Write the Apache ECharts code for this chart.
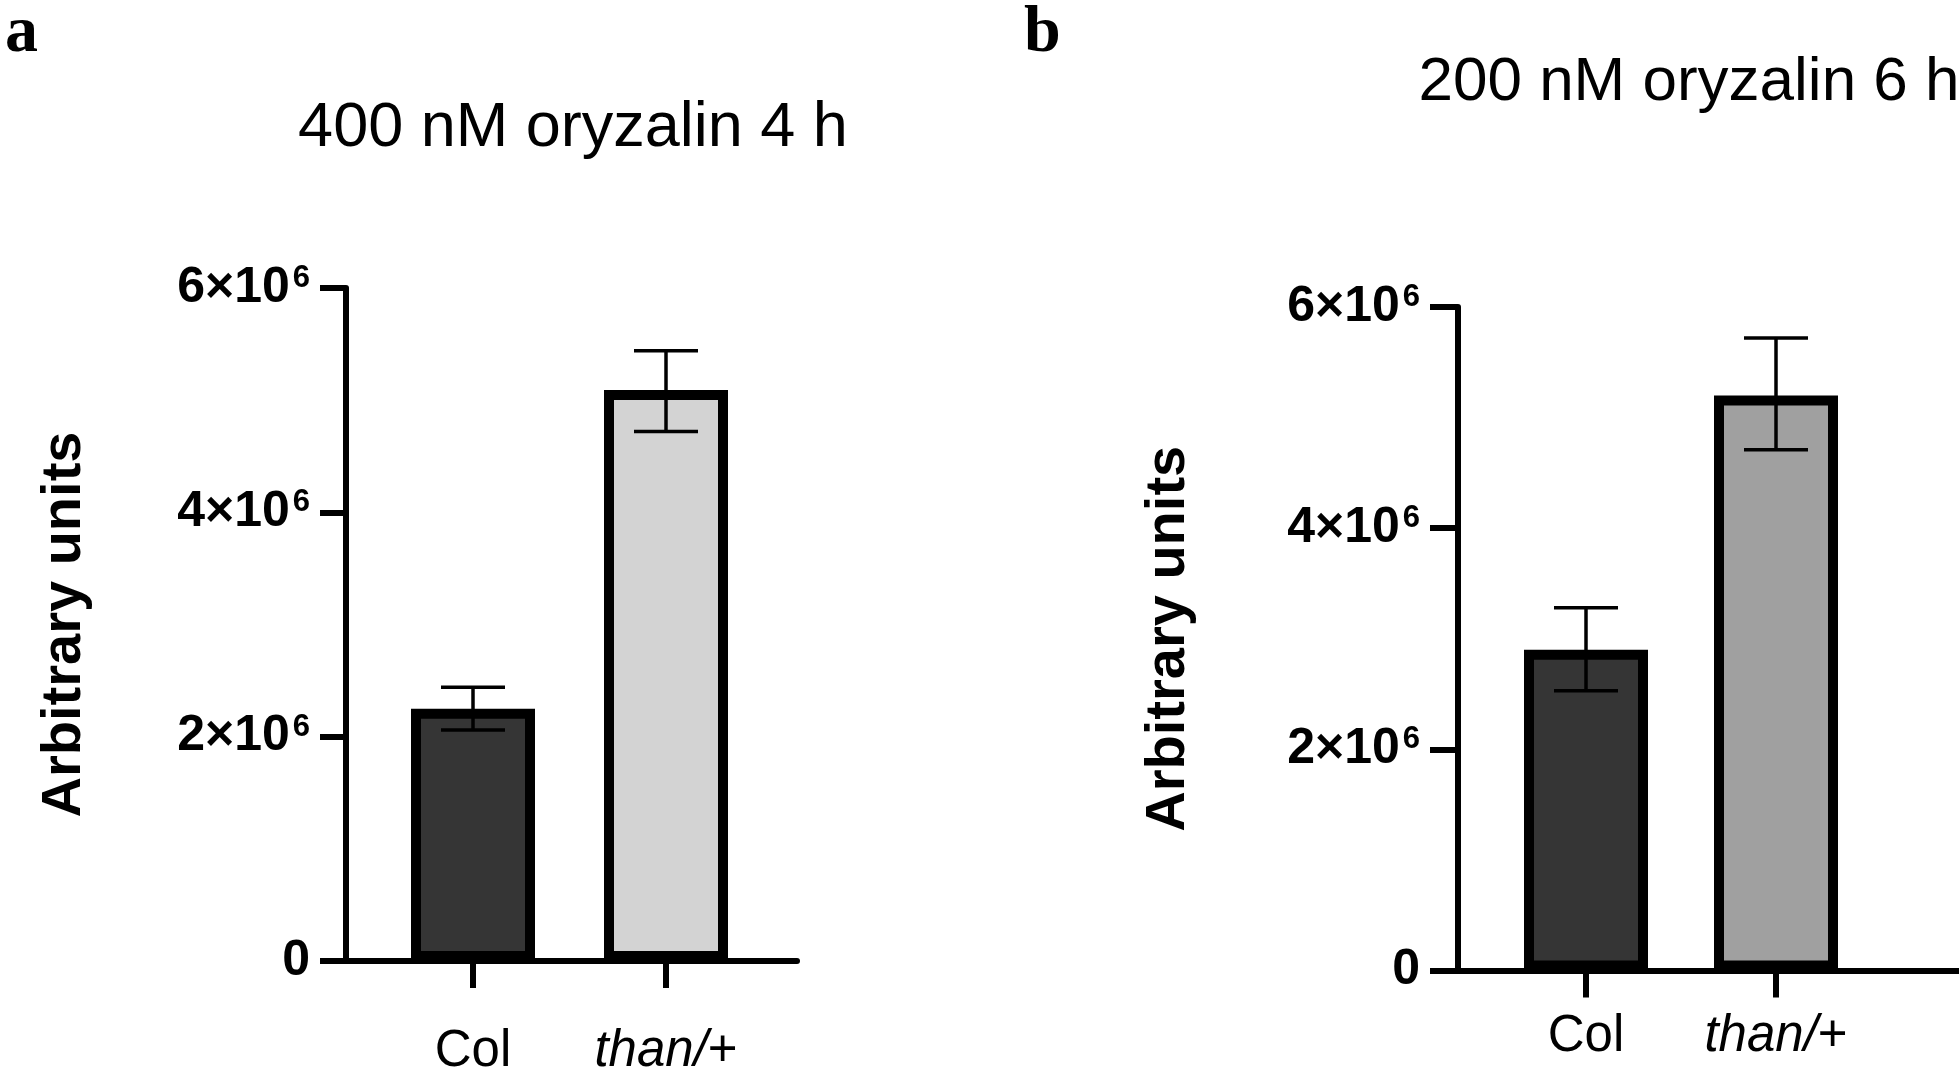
<!DOCTYPE html>
<html>
<head>
<meta charset="utf-8">
<script src="https://cdn.jsdelivr.net/npm/echarts@6/dist/echarts.min.js"></script>
<style>
html,body{margin:0;padding:0;background:#fff;}
#c{width:1959px;height:1070px;}
</style>
</head>
<body>
<div id="c"></div>
<script>
// ---- data ----
const categories = ['Col', 'than/+'];
const yTicks = [0, 2e6, 4e6, 6e6];

const titleA = '400 nM oryzalin 4 h';
const valuesA = [2.25e6, 5.09e6];
const errLowA = [2.06e6, 4.72e6];
const errHighA = [2.44e6, 5.44e6];
const colorsA = ['#353535', '#d3d3d3'];

const titleB = '200 nM oryzalin 6 h';
const valuesB = [2.90e6, 5.20e6];
const errLowB = [2.53e6, 4.71e6];
const errHighB = [3.28e6, 5.72e6];
const colorsB = ['#353535', '#a0a0a0'];

const yName = 'Arbitrary units';

// ---- build ----
const FONT = '"Liberation Sans", Arial, Helvetica, sans-serif';
const chart = echarts.init(document.getElementById('c'), null, {renderer: 'canvas'});

function yLabelFmt(v) {
  if (v === 0) return '{b|0}';
  return '{b|' + (v / 1e6) + '×10}{s|6}';
}
function xLabelFmt(v) {
  if (v === 'than/+') return '{i|than/}{n|+}';
  return '{n|' + v + '}';
}

const panels = [
  {title: titleA, vals: valuesA, lo: errLowA, hi: errHighA, colors: colorsA,
   frame: {left: 346, top: 288, width: 451, height: 673},
   data: {left: 376.5, width: 386},
   tickLen: 26, labelMargin: 36, xMargin: 63, nameGap: 253, barWidth: 124,
   titlePos: {left: 568, top: 92, size: 63}, letter: 'a', letterLeft: 0},
  {title: titleB, vals: valuesB, lo: errLowB, hi: errHighB, colors: colorsB,
   frame: {left: 1458, top: 307, width: 501, height: 663.5},
   data: {left: 1491, width: 380},
   tickLen: 28, labelMargin: 38, xMargin: 39, nameGap: 261, barWidth: 124,
   titlePos: {left: 1684, top: 47, size: 62}, letter: 'b', letterLeft: 1019}
];

const grid = [], xAxis = [], yAxis = [], series = [], title = [];

panels.forEach((p, i) => {
  const gf = grid.length;
  grid.push({left: p.frame.left, top: p.frame.top, width: p.frame.width, height: p.frame.height,
    containLabel: false, outerBoundsMode: 'none'});
  const gd = grid.length;
  grid.push({left: p.data.left, top: p.frame.top, width: p.data.width, height: p.frame.height,
    containLabel: false, outerBoundsMode: 'none'});

  // frame axes
  xAxis.push({gridIndex: gf, type: 'category', data: [''],
    axisLine: {show: true, lineStyle: {color: '#000', width: 6}},
    axisTick: {show: false}, axisLabel: {show: false}, splitLine: {show: false}});
  yAxis.push({gridIndex: gf, type: 'value', min: 0, max: yTicks[yTicks.length - 1],
    interval: yTicks[1] - yTicks[0],
    axisLine: {show: true, lineStyle: {color: '#000', width: 6}},
    axisTick: {show: true, length: p.tickLen, lineStyle: {color: '#000', width: 6}},
    splitLine: {show: false},
    axisLabel: {margin: p.labelMargin, formatter: yLabelFmt,
      rich: {
        b: {fontFamily: FONT, fontWeight: 'bold', fontSize: 50, color: '#000', lineHeight: 50, verticalAlign: 'middle'},
        s: {fontFamily: FONT, fontWeight: 'bold', fontSize: 31, color: '#000', lineHeight: 31, verticalAlign: 'top', padding: [0, 0, 0, 3]}
      }},
    name: yName, nameLocation: 'middle', nameRotate: 90, nameGap: p.nameGap,
    nameTextStyle: {fontFamily: FONT, fontWeight: 'bold', fontSize: 56, color: '#000'}});

  // data axes
  const xd = xAxis.length;
  xAxis.push({gridIndex: gd, type: 'category', data: categories,
    axisLine: {show: false},
    axisTick: {show: true, alignWithLabel: true, length: 27, lineStyle: {color: '#000', width: 6}},
    axisLabel: {margin: p.xMargin, formatter: xLabelFmt,
      rich: {
        n: {fontFamily: FONT, fontSize: 51, color: '#000', lineHeight: 55},
        i: {fontFamily: FONT, fontSize: 51, fontStyle: 'italic', color: '#000', lineHeight: 55}
      }},
    splitLine: {show: false}});
  const yd = yAxis.length;
  yAxis.push({gridIndex: gd, type: 'value', min: 0, max: yTicks[yTicks.length - 1],
    interval: yTicks[1] - yTicks[0], show: false});

  series.push({type: 'bar', xAxisIndex: xd, yAxisIndex: yd, barWidth: p.barWidth,
    data: p.vals.map((v, k) => ({value: v, itemStyle: {color: p.colors[k]}})),
    itemStyle: {borderColor: '#000', borderWidth: 10},
    silent: true, z: 2});

  const errData = p.vals.map((v, k) => [k, p.lo[k], p.hi[k]]);
  series.push({type: 'custom', xAxisIndex: xd, yAxisIndex: yd, z: 5, silent: true,
    data: errData,
    renderItem: function (params, api) {
      const x = api.value(0);
      const lo = api.coord([x, api.value(1)]);
      const hi = api.coord([x, api.value(2)]);
      const hw = 32;
      const st = {stroke: '#000', lineWidth: 3.5};
      return {type: 'group', children: [
        {type: 'line', shape: {x1: hi[0], y1: hi[1], x2: lo[0], y2: lo[1]}, style: st},
        {type: 'line', shape: {x1: hi[0] - hw, y1: hi[1], x2: hi[0] + hw, y2: hi[1]}, style: st},
        {type: 'line', shape: {x1: lo[0] - hw, y1: lo[1], x2: lo[0] + hw, y2: lo[1]}, style: st}
      ]};
    }});

  title.push({text: p.title, left: p.titlePos.left, top: p.titlePos.top, textAlign: 'center',
    textStyle: {fontFamily: FONT, fontWeight: 'normal', fontSize: p.titlePos.size, color: '#000', lineHeight: p.titlePos.size}});
  title.push({text: p.letter, left: p.letterLeft, top: -4,
    textStyle: {fontFamily: '"Liberation Serif", "Times New Roman", serif', fontWeight: 'bold', fontSize: 66, color: '#000', lineHeight: 66}});
});

chart.setOption({
  animation: false,
  backgroundColor: '#fff',
  title: title,
  grid: grid,
  xAxis: xAxis,
  yAxis: yAxis,
  series: series
});
</script>
</body>
</html>
